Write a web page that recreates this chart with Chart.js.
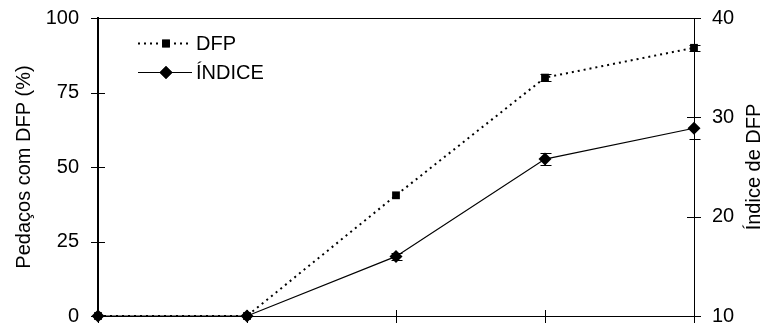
<!DOCTYPE html>
<html>
<head>
<meta charset="utf-8">
<script src="https://cdn.jsdelivr.net/npm/chart.js@4.4.1/dist/chart.umd.min.js"></script>
<style>
    html, body { margin: 0; padding: 0; background: #fff; }
    #wrap { width: 763px; height: 329px; }
</style>
</head>
<body>
<div id="wrap"><canvas id="dfpChart" width="763" height="329"></canvas></div>
<script>
// dados
const categorias = ['1', '2', '3', '4', '5'];
const dfp = [0, 0, 40.5, 80, 90];
const dfpErro = [0, 0, 0, 1.3, 1.0];
const indice = [10, 10, 16, 25.8, 28.9];
const indiceErro = [0, 0, 0.35, 0.6, 1.1];
const ticksPercent = [0, 25, 50, 75, 100];
const ticksIndice = [10, 20, 30, 40];
const tituloDireita = 'Índice de DFP';

const fonte = "'Liberation Sans', Arial, sans-serif";

// moldura, marcas cruzadas nos eixos, barras de erro, legenda e título do eixo direito
const moldura = {
    id: 'moldura',
    afterDatasetsDraw(chart) {
        const ctx = chart.ctx;
        const area = chart.chartArea;
        const x = chart.scales.x, y = chart.scales.y, y1 = chart.scales.y1;

        ctx.save();
        ctx.strokeStyle = '#000';
        ctx.lineWidth = 1;
        ctx.beginPath();
        ctx.moveTo(area.left, area.top + 0.5);
        ctx.lineTo(area.right, area.top + 0.5);

        ticksPercent.forEach(v => {
            const py = Math.round(y.getPixelForValue(v)) + 0.5;
            ctx.moveTo(area.left - 7, py);
            ctx.lineTo(area.left + 7, py);
        });
        ticksIndice.forEach(v => {
            const py = Math.round(y1.getPixelForValue(v)) + 0.5;
            ctx.moveTo(area.right - 7, py);
            ctx.lineTo(area.right + 7, py);
        });
        categorias.forEach((c, i) => {
            const px = Math.round(x.getPixelForValue(i)) + 0.5;
            ctx.moveTo(px, area.bottom - 6);
            ctx.lineTo(px, area.bottom + 7);
        });
        ctx.stroke();

        // barras de erro
        const barras = (valores, erros, escala) => {
            ctx.beginPath();
            valores.forEach((v, i) => {
                if (!erros[i]) return;
                const px = Math.round(x.getPixelForValue(i)) + 0.5;
                const top = Math.round(escala.getPixelForValue(v + erros[i])) + 0.5;
                const bot = Math.round(escala.getPixelForValue(v - erros[i])) + 0.5;
                ctx.moveTo(px, top); ctx.lineTo(px, bot);
                ctx.moveTo(px - 5, top); ctx.lineTo(px + 6, top);
                ctx.moveTo(px - 5, bot); ctx.lineTo(px + 6, bot);
            });
            ctx.stroke();
        };
        barras(dfp, dfpErro, y);
        barras(indice, indiceErro, y1);

        // legenda
        const itens = [
            { texto: 'DFP', y: 43, dash: [2, 4], estilo: 'rect', raio: 5.5 },
            { texto: 'ÍNDICE', y: 72, dash: [], estilo: 'rectRot', raio: 6.5 }
        ];
        ctx.font = '20px ' + fonte;
        ctx.textBaseline = 'middle';
        ctx.textAlign = 'left';
        ctx.fillStyle = '#000';
        itens.forEach(it => {
            ctx.setLineDash(it.dash);
            ctx.lineWidth = it.dash.length ? 2 : 1;
            ctx.beginPath();
            ctx.moveTo(138, it.y + 0.5);
            ctx.lineTo(192, it.y + 0.5);
            ctx.stroke();
            ctx.setLineDash([]);
            Chart.helpers.drawPoint(ctx, { pointStyle: it.estilo, radius: it.raio, rotation: 0, borderWidth: 0 }, 166, it.y + 0.5);
            ctx.fill();
            ctx.fillText(it.texto, 196, it.y + 1);
        });

        // título do eixo direito, lido de baixo para cima
        ctx.translate(754, (area.top + area.bottom) / 2);
        ctx.rotate(-Math.PI / 2);
        ctx.textAlign = 'center';
        ctx.fillText(tituloDireita, 0, 0);
        ctx.restore();
    }
};

// sem folga extra das etiquetas: a área do gráfico fica onde o layout manda
const semFolga = s => { s.paddingTop = 0; s.paddingBottom = 0; };

new Chart(document.getElementById('dfpChart'), {
    type: 'line',
    data: {
        labels: categorias,
        datasets: [
            {
                label: 'DFP',
                data: dfp,
                yAxisID: 'y',
                borderColor: '#000',
                backgroundColor: '#000',
                borderWidth: 2,
                borderDash: [2, 4],
                pointStyle: 'rect',
                pointRadius: 5.5,
                pointBorderWidth: 0,
                tension: 0,
                clip: false
            },
            {
                label: 'ÍNDICE',
                data: indice,
                yAxisID: 'y1',
                borderColor: '#000',
                backgroundColor: '#000',
                borderWidth: 1.2,
                pointStyle: 'rectRot',
                pointRadius: 6.5,
                pointBorderWidth: 0,
                tension: 0,
                clip: false
            }
        ]
    },
    options: {
        responsive: false,
        animation: false,
        events: [],
        layout: { padding: { top: 18, left: 0, right: 0, bottom: 0 } },
        plugins: { legend: { display: false }, tooltip: { enabled: false } },
        scales: {
            x: {
                offset: false,
                ticks: { display: false },
                grid: { drawOnChartArea: false, drawTicks: false },
                border: { display: true, color: '#000', width: 1 },
                afterFit: s => { s.height = 13; s.paddingLeft = 0; s.paddingRight = 0; }
            },
            y: {
                position: 'left',
                min: 0, max: 100,
                afterBuildTicks: s => { s.ticks = ticksPercent.map(v => ({ value: v })); },
                ticks: { color: '#000', font: { family: fonte, size: 20 }, padding: 19 },
                grid: { drawOnChartArea: false, drawTicks: false },
                border: { display: true, color: '#000', width: 2 },
                title: {
                    display: true,
                    text: 'Pedaços com DFP (%)',
                    color: '#000',
                    font: { family: fonte, size: 20 },
                    padding: { top: 12, bottom: 0 }
                },
                afterFit: s => { s.width = 98; semFolga(s); }
            },
            y1: {
                position: 'right',
                min: 10, max: 40,
                afterBuildTicks: s => { s.ticks = ticksIndice.map(v => ({ value: v })); },
                ticks: { color: '#000', font: { family: fonte, size: 20 }, padding: 18 },
                grid: { drawOnChartArea: false, drawTicks: false },
                border: { display: true, color: '#000', width: 1 },
                afterFit: s => { s.width = 69; semFolga(s); }
            }
        }
    },
    plugins: [moldura]
});
</script>
</body>
</html>
